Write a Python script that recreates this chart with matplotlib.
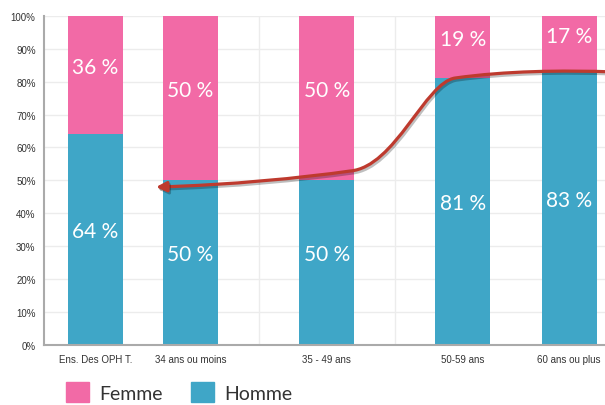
import matplotlib
matplotlib.use("Agg")
import matplotlib.pyplot as plt
import matplotlib.patheffects as pe
from matplotlib.patches import FancyArrowPatch, Patch
from matplotlib.path import Path

#------------------------------------------------------------------------------
#                   data
#------------------------------------------------------------------------------
categories = ["Ens. Des OPH T.", "34 ans ou moins", "35 - 49 ans", "50-59 ans", "60 ans ou plus"]
homme = [64, 50, 50, 81, 83]
femme = [36, 50, 50, 19, 17]

#layout: bar centres (the chart spaces them unevenly)
xpos = [0.30, 1.0, 2.0, 3.0, 3.78]
barWidth = 0.404

pink = "#F26AA6"
blue = "#3FA6C7"
red = "#BE3A2E"

#------------------------------------------------------------------------------
#                   figure
#------------------------------------------------------------------------------
fig = plt.figure(figsize=(6.05, 4.06), dpi=100)
ax = fig.add_axes([44 / 605, 1 - 345.5 / 406, 1 - 44 / 605, (345.5 - 17) / 406])

ax.bar(xpos, homme, width=barWidth, color=blue, zorder=2)
ax.bar(xpos, femme, width=barWidth, bottom=homme, color=pink, zorder=2)

#value labels
for x, h, f in zip(xpos, homme, femme):
    ax.text(x, h / 2 + 2.5, "{} %".format(h), ha="center", va="center",
            color="white", fontsize=15, family="Lato", zorder=4)
    ax.text(x, h + f / 2 + 2.5, "{} %".format(f), ha="center", va="center",
            color="white", fontsize=15, family="Lato", zorder=4)

#axes look
ax.set_xlim(-0.077, 4.044)
ax.set_ylim(0, 100)
ax.set_yticks(range(0, 101, 10))
ax.set_yticklabels(["{}%".format(v) for v in range(0, 101, 10)])
ax.set_xticks(xpos)
ax.set_xticklabels(categories)
ax.tick_params(axis="both", length=0, labelsize=7, labelcolor="#333333")
ax.tick_params(axis="y", pad=6)
ax.tick_params(axis="x", pad=7)
for lab in ax.get_xticklabels() + ax.get_yticklabels():
    lab.set_family("Liberation Sans")

ax.grid(axis="y", color="#ececec", linewidth=1, zorder=0)
for gx in [1.5, 2.5]:
    ax.axvline(gx, color="#ececec", linewidth=1, zorder=0)
ax.set_axisbelow(True)

for s in ["top", "right"]:
    ax.spines[s].set_visible(False)
for s in ["left", "bottom"]:
    ax.spines[s].set_color("#aaaaaa")
    ax.spines[s].set_linewidth(1.5)

#------------------------------------------------------------------------------
#                   red trend arrow
#------------------------------------------------------------------------------
def px(xp, yp):
    #pixel position on the picture -> data coords
    return ((xp - 190.5) / 136 + 1, (345.5 - yp) / 328.5 * 100)

verts = [px(615, 73),
         px(560, 71), px(505, 72), px(455, 79),
         px(425, 83), px(395, 168), px(350, 172),
         px(300, 179), px(230, 186), px(156, 188)]
codes = [Path.MOVETO] + [Path.CURVE4] * 9
arrow = FancyArrowPatch(path=Path(verts, codes), arrowstyle="-|>,head_length=0.6,head_width=0.3",
                        mutation_scale=10, color=red, linewidth=2.3, zorder=5, clip_on=False)
arrow.set_path_effects([pe.SimpleLineShadow(offset=(1, -1.5), alpha=0.25), pe.Normal()])
ax.add_patch(arrow)

#------------------------------------------------------------------------------
#                   legend
#------------------------------------------------------------------------------
handles = [Patch(color=pink, label="Femme"), Patch(color=blue, label="Homme")]
leg = fig.legend(handles=handles, loc="upper left", bbox_to_anchor=(66 / 605, 1 - 383 / 406),
                 ncol=2, frameon=False, handlelength=1.2, handleheight=1.2,
                 handletextpad=0.5, columnspacing=1.45, borderpad=0, borderaxespad=0,
                 prop={"family": "Lato", "size": 14})
for t in leg.get_texts():
    t.set_color("#333333")

fig.savefig("out.png", dpi=100)
